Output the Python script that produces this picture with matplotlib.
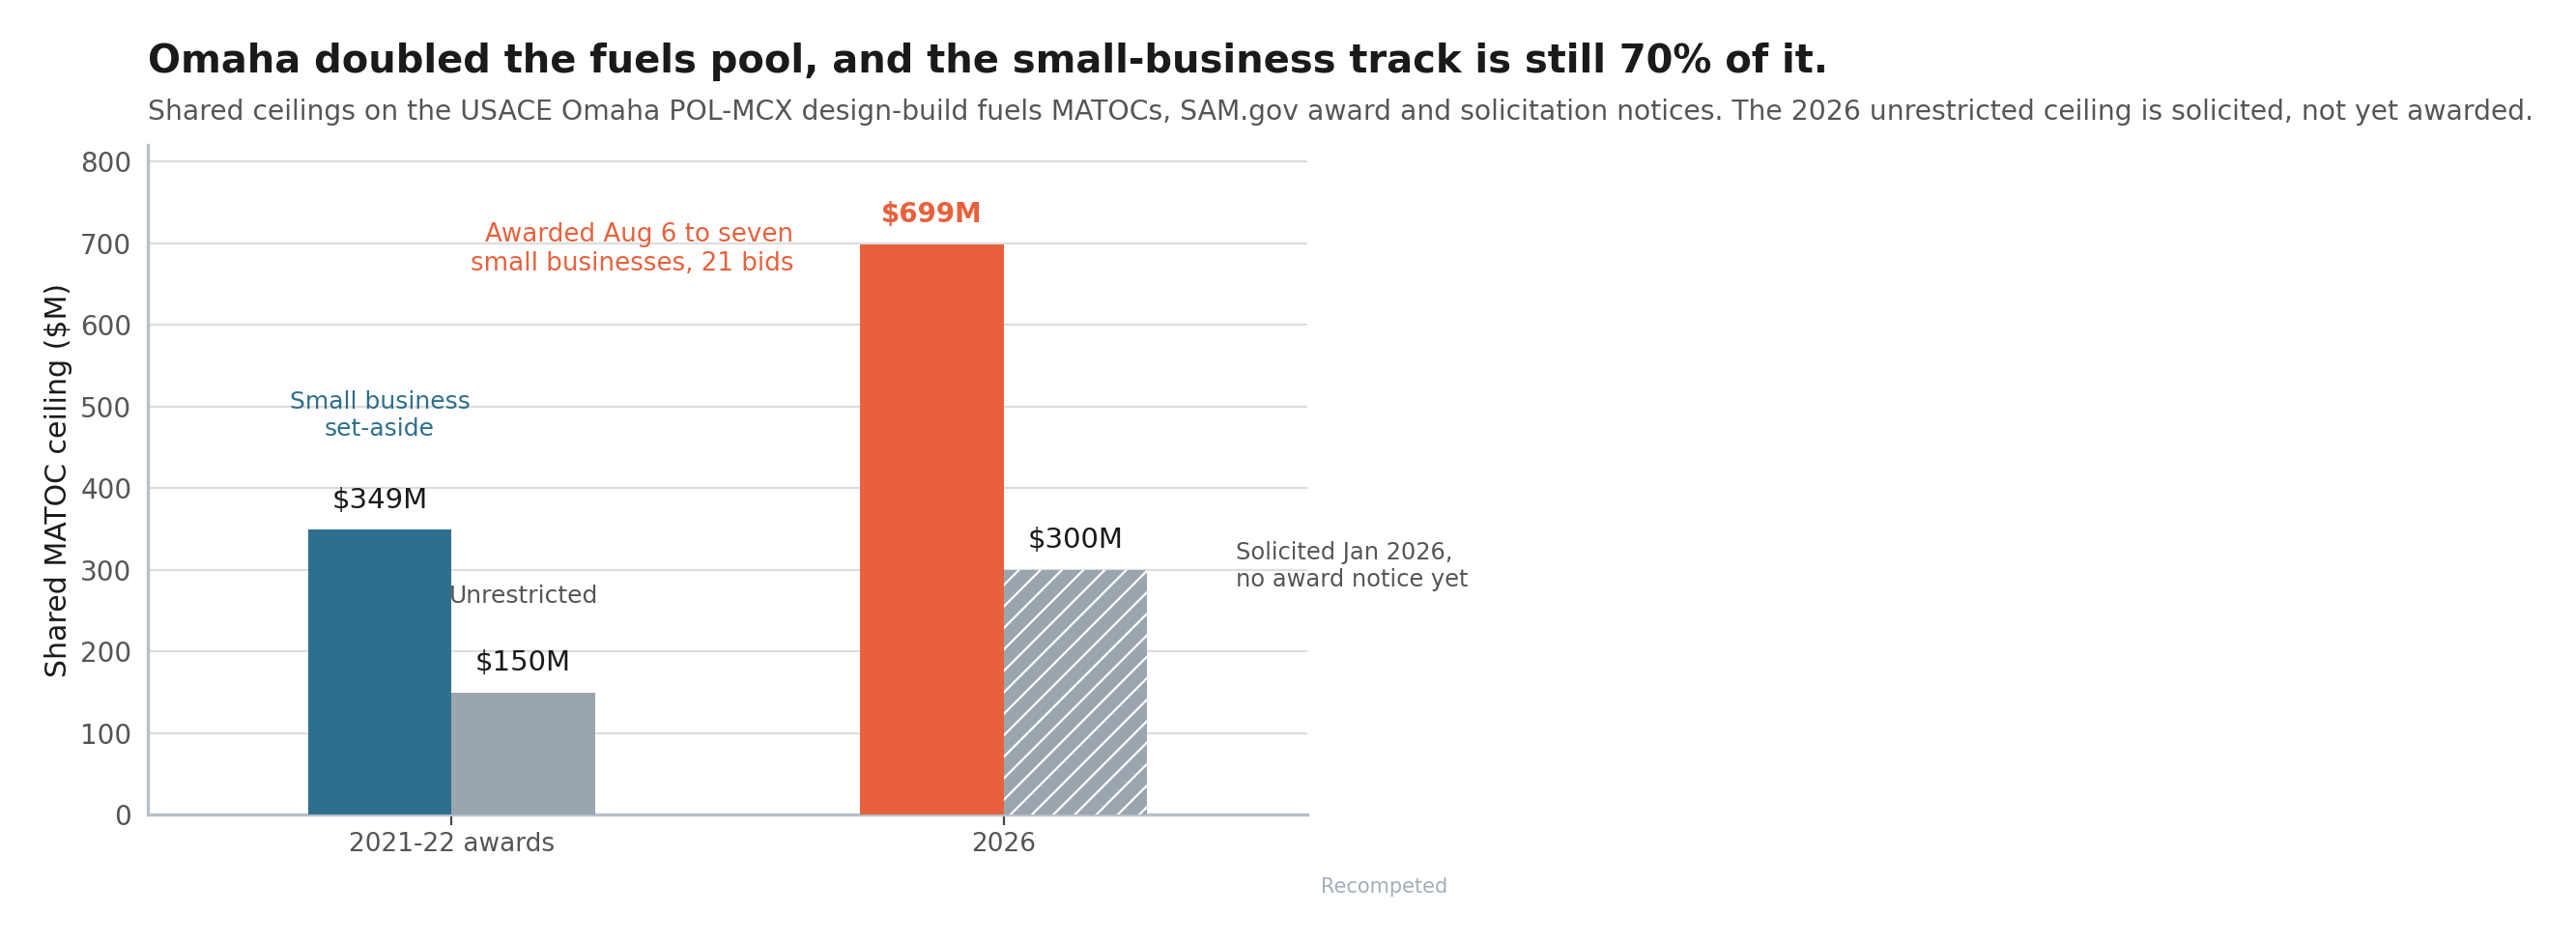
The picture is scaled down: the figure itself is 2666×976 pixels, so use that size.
import matplotlib.pyplot as plt
import numpy as np

# data
periods = ["2021-22 awards", "2026"]
set_aside = [349, 699]
unrestricted = [150, 300]
set_aside_labels = ["$349M", "$699M"]
unrestricted_labels = ["$150M", "$300M"]

BLUE = "#2E6F8E"
ORANGE = "#E8613C"
GREY = "#9AA5AE"
TXT = "#555555"

plt.rcParams['font.family'] = ['DejaVu Sans']
plt.rcParams['hatch.color'] = 'white'
plt.rcParams['hatch.linewidth'] = 0.8

fig = plt.figure(figsize=(13.33, 4.88), dpi=200)
ax = fig.add_axes([0.0574, 0.136, 0.4501, 0.710])

x = np.arange(len(periods))
w = 0.26

sa_colors = [BLUE, ORANGE]
ax.bar(x - w/2, set_aside, w, color=sa_colors, zorder=3)
bars_u = ax.bar(x + w/2, unrestricted, w, color=GREY, zorder=3)
bars_u[1].set_hatch('///')
bars_u[1].set_edgecolor('white')
bars_u[1].set_linewidth(0)

# value labels
for i in range(len(periods)):
    bold = (i == 1)
    ax.annotate(set_aside_labels[i], (x[i] - w/2, set_aside[i]), xytext=(0, 6),
                textcoords='offset points', ha='center', va='bottom',
                fontsize=10 if bold else 10.5, color=ORANGE if bold else '#1a1a1a',
                fontweight='bold' if bold else 'normal')
    ax.annotate(unrestricted_labels[i], (x[i] + w/2, unrestricted[i]), xytext=(0, 6),
                textcoords='offset points', ha='center', va='bottom',
                fontsize=10.5, color='#1a1a1a')

# annotations
ax.text(x[0] - w/2, 489, "Small business\nset-aside", ha='center', va='center',
        fontsize=9, color=BLUE)
ax.text(x[0] + w/2, 268, "Unrestricted", ha='center', va='center',
        fontsize=9, color=TXT)
ax.text(0.62, 692, "Awarded Aug 6 to seven\nsmall businesses, 21 bids", ha='right',
        va='center', fontsize=9.4, color=ORANGE)
ax.text(1.42, 304, "Solicited Jan 2026,\nno award notice yet", ha='left',
        va='center', fontsize=8.7, color=TXT, clip_on=False)
ax.text(1.69, -88, "Recompeted", ha='center', va='center', fontsize=7.5,
        color="#A3AEB8", clip_on=False)

ax.set_xlim(-0.55, 1.55)
ax.set_ylim(0, 820)
ax.set_yticks(range(0, 900, 100))
ax.set_xticks(x)
ax.set_xticklabels(periods)
ax.tick_params(axis='y', length=0, labelsize=10, labelcolor=TXT, pad=6)
ax.tick_params(axis='x', length=4, color='#444444', labelsize=9.5, labelcolor=TXT, pad=2.5)
ax.set_ylabel("Shared MATOC ceiling ($M)", fontsize=10.8, color='#1a1a1a', labelpad=3)

ax.grid(axis='y', color='#DDDDDD', lw=0.8, zorder=0)
for s in ['top', 'right']:
    ax.spines[s].set_visible(False)
for s in ['left', 'bottom']:
    ax.spines[s].set_color('#B8C0CA')
    ax.spines[s].set_linewidth(1.2)

fig.text(0.0574, 0.9227, "Omaha doubled the fuels pool, and the small-business track is still 70% of it.",
         fontsize=14.4, fontweight='bold', color='#1a1a1a', va='baseline')
fig.text(0.0574, 0.873, "Shared ceilings on the USACE Omaha POL-MCX design-build fuels MATOCs, SAM.gov award and solicitation notices. The 2026 unrestricted ceiling is solicited, not yet awarded.",
         fontsize=10.2, color=TXT, va='baseline')

fig.savefig("out.png", dpi=200)
